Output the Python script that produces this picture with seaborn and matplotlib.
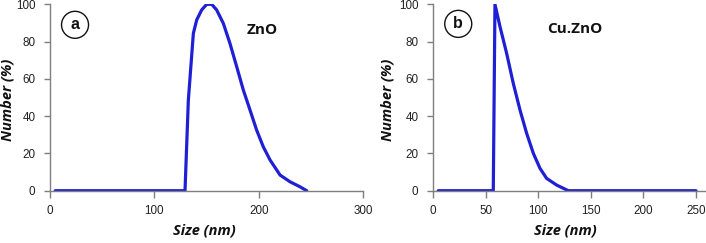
import matplotlib
matplotlib.use("Agg")
import matplotlib.pyplot as plt
import seaborn as sns
import pandas as pd
from matplotlib.patches import Ellipse

# ---- data ----
zno_size = [5, 20, 40, 60, 80, 100, 120, 129.4, 132.6, 137.4, 140.6, 145.4, 150.2, 155,
            159.7, 166.1, 172.5, 178.9, 185.3, 191.7, 198, 204.4, 210.9, 220.5, 230,
            239.6, 246]
zno_number = [0, 0, 0, 0, 0, 0, 0, 0, 48.6, 84.4, 91.6, 97, 100, 100,
              97, 89.8, 79, 66.6, 54, 43.3, 32.6, 23.6, 16.5, 8.4, 4.8,
              2.1, 0]
cu_size = [5, 30, 57.3, 58.9, 63.7, 70, 76.3, 82.7, 89, 95.4, 101.7, 108, 117.6, 122,
           128.6, 150, 200, 250]
cu_number = [0, 0, 0, 100, 88, 73.7, 57.6, 43.3, 30.8, 20, 12, 6.6, 3, 1.8,
             0, 0, 0, 0]

panel_labels = ["a", "b"]
sample_names = ["ZnO", "Cu.ZnO"]
x_ticks_a = [0, 100, 200, 300]
x_ticks_b = [0, 50, 100, 150, 200, 250]
y_ticks = [0, 20, 40, 60, 80, 100]

sns.set_theme(style="ticks")
plt.rcParams['font.family'] = ['Liberation Sans', 'DejaVu Sans']

W, H = 706, 243
fig = plt.figure(figsize=(W / 100, H / 100), dpi=100)

line_color = "#1f1fd6"
spine_color = "#7f7f7f"
label_font = ['Open Sans', 'DejaVu Sans']

def px_axes(x0, x1, ytop, ybot):
    return fig.add_axes([x0 / W, 1 - ybot / H, (x1 - x0) / W, (ybot - ytop) / H])

ax_a = px_axes(50, 363, 4.3, 190.7)
ax_b = px_axes(433, 706, 4.3, 190.7)

df_a = pd.DataFrame({"size": zno_size, "number": zno_number})
df_b = pd.DataFrame({"size": cu_size, "number": cu_number})

panels = [
    (ax_a, df_a, (0, 300), x_ticks_a, panel_labels[0], sample_names[0], (24, 89), (203, 86),
     (-0.135, 0.487), (0.492, -0.211)),
    (ax_b, df_b, (0, 259.5), x_ticks_b, panel_labels[1], sample_names[1], (24, 89.5), (135, 87),
     (-0.165, 0.487), (0.4835, -0.211)),
]

for ax, df, xlim, xt, plab, name, circ_xy, name_xy, ylab_xy, xlab_xy in panels:
    sns.lineplot(data=df, x="size", y="number", ax=ax, color=line_color,
                 linewidth=2.3, sort=False, estimator=None)
    ax.set_xlim(*xlim)
    ax.set_ylim(0, 100)
    ax.set_xticks(xt)
    ax.set_yticks(y_ticks)
    for s in ["top", "right"]:
        ax.spines[s].set_visible(False)
    for s in ["left", "bottom"]:
        ax.spines[s].set_color(spine_color)
        ax.spines[s].set_linewidth(1.0)
        ax.spines[s].set_clip_on(False)
    ax.tick_params(axis="x", direction="out", length=5, width=1.0,
                   color=spine_color, labelsize=8.4, labelcolor="#222222", pad=5)
    ax.tick_params(axis="y", direction="out", length=4, width=1.0,
                   color=spine_color, labelsize=8.4, labelcolor="#222222", pad=6.5)
    ax.set_xlabel("Size (nm)", fontsize=10.5, fontweight="bold", fontstyle="italic",
                  color="#111111", family=label_font, va="center", ha="center")
    ax.set_ylabel("Number (%)", fontsize=10.5, fontweight="bold", fontstyle="italic",
                  color="#111111", family=label_font, va="center", ha="center")
    ax.yaxis.set_label_coords(*ylab_xy)
    ax.xaxis.set_label_coords(*xlab_xy)
    # circled panel label
    xr = xlim[1] - xlim[0]
    ax_w_px = ax.get_position().width * W
    ax_h_px = ax.get_position().height * H
    r_px = 13.5
    ell = Ellipse(circ_xy, width=2 * r_px * xr / ax_w_px, height=2 * r_px * 100 / ax_h_px,
                  facecolor="white", edgecolor="#111111", linewidth=1.0, zorder=5,
                  clip_on=False)
    ax.add_patch(ell)
    ax.text(circ_xy[0], circ_xy[1], plab, ha="center", va="center", fontsize=11.5,
            fontweight="bold", color="#111111", zorder=6)
    ax.text(name_xy[0], name_xy[1], name, ha="center", va="center", fontsize=11,
            fontweight="bold", color="#111111", family=label_font)

fig.savefig("out.png", dpi=100)
